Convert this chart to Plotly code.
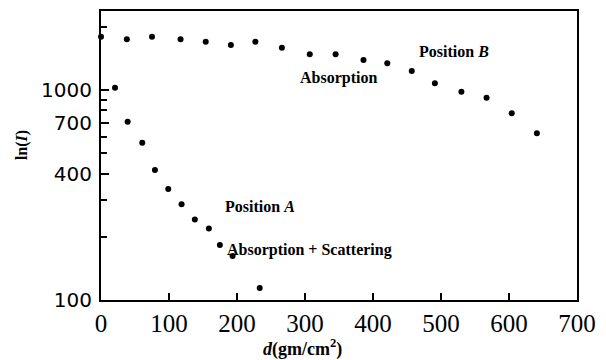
import plotly.graph_objects as go

# Position B (Absorption)
d_b = [0, 38, 75, 117, 154, 191, 227, 266, 307, 345, 386, 421, 457, 491, 530, 567, 604, 641]
I_b = [1790, 1743, 1794, 1743, 1698, 1638, 1698, 1590, 1479, 1479, 1389, 1340, 1232, 1076, 982, 919, 774, 622]

# Position A (Absorption + Scattering)
d_a = [20.6, 39.2, 60.7, 79.3, 98.9, 118.5, 138, 158.6, 174.8, 193.5, 233.4]
I_a = [1025, 706, 561, 416, 338, 286, 242, 219, 183, 162, 114]

x_ticks = [0, 100, 200, 300, 400, 500, 600, 700]
y_major = [100, 400, 700, 1000]
y_minor = [200, 300, 500, 600, 800, 900, 2000]

fig = go.Figure()
for xs, ys in [(d_b, I_b), (d_a, I_a)]:
    fig.add_trace(go.Scatter(x=xs, y=ys, mode="markers",
                             marker=dict(color="black", size=6),
                             cliponaxis=False, showlegend=False))

serif = "Liberation Serif"
# the page body adds an 8px offset; size and margins compensate for it
fig.update_layout(
    width=598, height=352,
    margin=dict(l=93, r=29, t=3, b=60, autoexpand=False),
    paper_bgcolor="white", plot_bgcolor="white",
    xaxis=dict(range=[0, 700], tickmode="array", tickvals=x_ticks,
               ticktext=[str(v) for v in x_ticks], automargin=False,
               ticks="inside", ticklen=7, tickwidth=2, tickcolor="black",
               showline=True, linewidth=2, linecolor="black", mirror=True,
               showgrid=False, zeroline=False,
               tickfont=dict(family=serif, size=25, color="black"),
               ticklabelstandoff=0),
    yaxis=dict(type="log", range=[2, 3.376], tickmode="array",
               tickvals=y_major, ticktext=[str(v) for v in y_major],
               automargin=False,
               ticks="inside", ticklen=8, tickwidth=2, tickcolor="black",
               showline=True, linewidth=2, linecolor="black", mirror=True,
               showgrid=False, zeroline=False,
               tickfont=dict(family="DejaVu Sans", size=20, color="black"),
               ticklabelstandoff=3,
               minor=dict(tickmode="array", tickvals=y_minor, ticks="inside",
                          ticklen=6, tickwidth=2, tickcolor="black", showgrid=False)),
)

def ann(text, x, y, size=16, xanchor="left", angle=0):
    fig.add_annotation(text=text, x=x, y=y, xref="paper", yref="paper",
                       xanchor=xanchor, yanchor="middle", showarrow=False,
                       textangle=angle,
                       font=dict(family=serif, size=size, color="black"))

ann("<b>Position <i>B</i></b>", 0.664, 0.859)
ann("<b>Absorption</b>", 0.414, 0.769)
ann("<b>Position <i>A</i></b>", 0.256, 0.323)
ann("<b>Absorption + Scattering</b>", 0.2605, 0.173)
ann("<b><i>d</i>(gm/cm<sup>2</sup>)</b>", 0.4223, -0.166, size=18, xanchor="center")
ann("<b>ln(<i>I</i>)</b>", -0.166, 0.536, size=16, xanchor="center", angle=-90)

fig.write_html("out.html")
